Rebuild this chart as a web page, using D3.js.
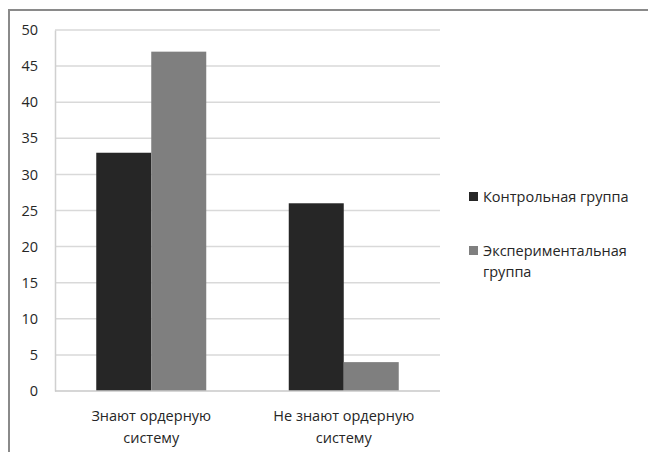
<!DOCTYPE html>
<html>
<head>
<meta charset="utf-8">
<script src="https://cdn.jsdelivr.net/npm/d3@7"></script>
<style>
 body { margin: 0; background: #fff; }
 svg { display: block; font-family: "Open Sans", sans-serif; }
</style>
</head>
<body>
<div id="chart"></div>
<script>
const categories = [["Знают ордерную", "систему"], ["Не знают ордерную", "систему"]];
const seriesNames = ["Контрольная группа", "Экспериментальная группа"];
const legendLines = [["Контрольная группа"], ["Экспериментальная", "группа"]];
const controlValues = [33, 26];
const experimentValues = [47, 4];
const yTicks = [0, 5, 10, 15, 20, 25, 30, 35, 40, 45, 50];
const colors = ["#262626", "#7f7f7f"];

const W = 648, H = 452;
const plot = { left: 55, right: 440, top: 30, bottom: 391 };
const fontSize = 14.5;
const textColor = "#262626";

const svg = d3.select("#chart").append("svg").attr("width", W).attr("height", H);

// outer frame, runs off the right and bottom edge
svg.append("rect")
 .attr("x", 9).attr("y", 10)
 .attr("width", W).attr("height", H)
 .attr("fill", "none").attr("stroke", "#8a8a8a").attr("stroke-width", 2);

const y = d3.scaleLinear().domain([0, 50]).range([plot.bottom, plot.top]);
const x0 = d3.scaleBand()
 .domain(d3.range(categories.length))
 .range([plot.left, plot.right])
 .paddingInner(0.4286)
 .paddingOuter(0.2143);
const x1 = d3.scaleBand().domain([0, 1]).range([0, x0.bandwidth()]);

// gridlines
svg.append("g")
 .selectAll("line")
 .data(yTicks.filter(d => d > 0))
 .join("line")
 .attr("x1", plot.left).attr("x2", plot.right)
 .attr("y1", d => y(d)).attr("y2", d => y(d))
 .attr("stroke", "#d9d9d9").attr("stroke-width", 1.5);

// y axis
const yAxis = svg.append("g")
 .attr("transform", `translate(${plot.left},0)`)
 .call(d3.axisLeft(y).tickValues(yTicks).tickSize(0).tickPadding(17));
yAxis.select(".domain").attr("stroke", "#d0d0d0").attr("stroke-width", 1.5);
yAxis.selectAll("text").attr("font-size", fontSize).attr("fill", textColor)
 .attr("font-family", "Open Sans, sans-serif");

// bars
const data = categories.map((c, i) => [controlValues[i], experimentValues[i]]);
svg.append("g")
 .selectAll("g")
 .data(data)
 .join("g")
 .attr("transform", (d, i) => `translate(${x0(i)},0)`)
 .selectAll("rect")
 .data(d => d)
 .join("rect")
 .attr("x", (d, j) => x1(j))
 .attr("y", d => y(d))
 .attr("width", x1.bandwidth())
 .attr("height", d => y(0) - y(d))
 .attr("fill", (d, j) => colors[j]);

// x axis line
svg.append("line")
 .attr("x1", plot.left).attr("x2", plot.right)
 .attr("y1", plot.bottom).attr("y2", plot.bottom)
 .attr("stroke", "#c8c8c8").attr("stroke-width", 1.5);

// category labels
svg.append("g")
 .selectAll("text")
 .data(categories)
 .join("text")
 .attr("x", (d, i) => x0(i) + x0.bandwidth() / 2)
 .attr("y", 421)
 .attr("text-anchor", "middle")
 .attr("font-size", fontSize)
 .attr("fill", textColor)
 .selectAll("tspan")
 .data(d => d)
 .join("tspan")
 .attr("x", function () { return d3.select(this.parentNode).attr("x"); })
 .attr("dy", (d, k) => k === 0 ? 0 : 22)
 .text(d => d);

// legend
const legend = svg.append("g").attr("transform", "translate(469,192)");
const item = legend.selectAll("g")
 .data(seriesNames)
 .join("g")
 .attr("transform", (d, i) => `translate(0,${i * 54})`);
item.append("rect")
 .attr("width", 9).attr("height", 9)
 .attr("fill", (d, i) => colors[i]);
item.append("text")
 .attr("x", 14).attr("y", 9.5)
 .attr("font-size", fontSize)
 .attr("fill", textColor)
 .selectAll("tspan")
 .data((d, i) => legendLines[i])
 .join("tspan")
 .attr("x", 14)
 .attr("dy", (d, k) => k === 0 ? 0 : 21.5)
 .text(d => d);
</script>
</body>
</html>
